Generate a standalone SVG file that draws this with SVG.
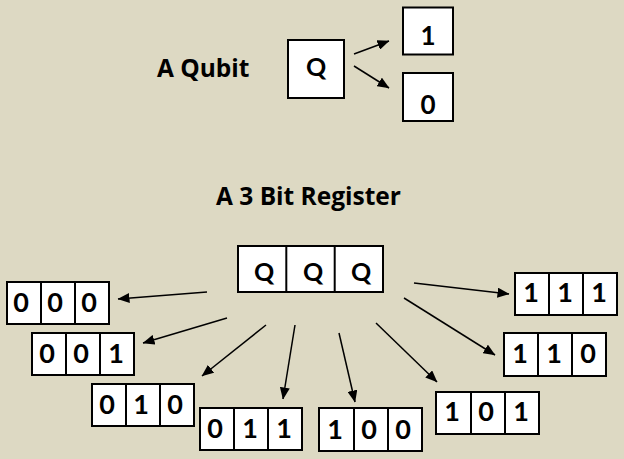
<svg xmlns="http://www.w3.org/2000/svg" width="624" height="459" viewBox="0 0 624 459">
<style>
.bg{fill:#DDD9C3}
.box{fill:#FFFFFF;stroke:#000000;stroke-width:2}
.div{stroke:#000000;stroke-width:2}
.title{font-family:"Open Sans","Liberation Sans",sans-serif;font-weight:bold;font-size:24.5px;fill:#000000}
.q{font-family:Lato,"Open Sans",sans-serif;font-weight:bold;font-size:25px;fill:#000000;text-anchor:middle}
.d{font-family:Lato,"Open Sans",sans-serif;font-weight:bold;font-size:27px;fill:#000000;text-anchor:middle}
.ds{font-family:Lato,"Open Sans",sans-serif;font-weight:bold;font-size:26px;fill:#000000;text-anchor:middle}
.arr{stroke:#000000;stroke-width:1.5;fill:none;marker-end:url(#ah)}
</style>
<defs>
<marker id="ah" markerUnits="userSpaceOnUse" viewBox="0 0 12 10" refX="11.5" refY="5" markerWidth="12" markerHeight="10" orient="auto">
<path d="M0,0 L12,5 L0,10 Z" fill="#000000"/>
</marker>
</defs>
<rect class="bg" x="0" y="0" width="624" height="459"/>

<text class="title" x="157" y="77">A Qubit</text>
<text class="title" x="216" y="205">A 3 Bit Register</text>

<g id="qubit">
<rect class="box" x="288" y="40" width="56" height="58"/>
<text class="q" x="316" y="76">Q</text>
</g>
<g id="one">
<rect class="box" x="403" y="7.5" width="50" height="47"/>
<text class="ds" x="428" y="45">1</text>
</g>
<g id="zero">
<rect class="box" x="403" y="73" width="50" height="48"/>
<text class="ds" x="428" y="113.5">0</text>
</g>

<g id="register">
<rect class="box" x="238" y="246" width="145" height="46"/>
<line class="div" x1="286.3" y1="246" x2="286.3" y2="292"/>
<line class="div" x1="334.7" y1="246" x2="334.7" y2="292"/>
<text class="q" x="264" y="280.5">Q</text>
<text class="q" x="313" y="280.5">Q</text>
<text class="q" x="361" y="280.5">Q</text>
</g>

<g id="r000">
<rect class="box" x="7" y="282" width="102" height="42"/>
<line class="div" x1="41" y1="282" x2="41" y2="324"/>
<line class="div" x1="75" y1="282" x2="75" y2="324"/>
<text class="d" x="21" y="312">0</text>
<text class="d" x="55" y="312">0</text>
<text class="d" x="89" y="312">0</text>
</g>
<g id="r001">
<rect class="box" x="32" y="333" width="102" height="42"/>
<line class="div" x1="66" y1="333" x2="66" y2="375"/>
<line class="div" x1="100" y1="333" x2="100" y2="375"/>
<text class="d" x="47" y="363">0</text>
<text class="d" x="81" y="363">0</text>
<text class="d" x="116" y="363">1</text>
</g>
<g id="r010">
<rect class="box" x="92" y="384" width="102" height="42"/>
<line class="div" x1="126" y1="384" x2="126" y2="426"/>
<line class="div" x1="160" y1="384" x2="160" y2="426"/>
<text class="d" x="107" y="414">0</text>
<text class="d" x="141" y="414">1</text>
<text class="d" x="175" y="414">0</text>
</g>
<g id="r011">
<rect class="box" x="200" y="408" width="102" height="42"/>
<line class="div" x1="234" y1="408" x2="234" y2="450"/>
<line class="div" x1="268" y1="408" x2="268" y2="450"/>
<text class="d" x="215" y="438">0</text>
<text class="d" x="250" y="438">1</text>
<text class="d" x="284" y="438">1</text>
</g>
<g id="r100">
<rect class="box" x="319" y="408" width="103" height="43"/>
<line class="div" x1="354" y1="408" x2="354" y2="451"/>
<line class="div" x1="388" y1="408" x2="388" y2="451"/>
<text class="d" x="335" y="438.5">1</text>
<text class="d" x="369" y="438.5">0</text>
<text class="d" x="403" y="438.5">0</text>
</g>
<g id="r101">
<rect class="box" x="436" y="392" width="103" height="42"/>
<line class="div" x1="471" y1="392" x2="471" y2="434"/>
<line class="div" x1="505" y1="392" x2="505" y2="434"/>
<text class="d" x="452" y="420.5">1</text>
<text class="d" x="486" y="420.5">0</text>
<text class="d" x="521" y="420.5">1</text>
</g>
<g id="r110">
<rect class="box" x="504" y="333" width="102" height="43"/>
<line class="div" x1="538" y1="333" x2="538" y2="376"/>
<line class="div" x1="572" y1="333" x2="572" y2="376"/>
<text class="d" x="520" y="363">1</text>
<text class="d" x="554" y="363">1</text>
<text class="d" x="588" y="363">0</text>
</g>
<g id="r111">
<rect class="box" x="515" y="273" width="102" height="42"/>
<line class="div" x1="549" y1="273" x2="549" y2="315"/>
<line class="div" x1="583" y1="273" x2="583" y2="315"/>
<text class="d" x="531" y="302">1</text>
<text class="d" x="565" y="302">1</text>
<text class="d" x="599" y="302">1</text>
</g>

<g id="connectors">
<line class="arr" x1="354" y1="54" x2="389" y2="41"/>
<line class="arr" x1="354" y1="66" x2="389" y2="88"/>
<line class="arr" x1="207" y1="292" x2="118" y2="299"/>
<line class="arr" x1="227" y1="318" x2="143" y2="343"/>
<line class="arr" x1="266" y1="325" x2="202" y2="376"/>
<line class="arr" x1="295" y1="325" x2="283" y2="399"/>
<line class="arr" x1="339" y1="333" x2="355" y2="402"/>
<line class="arr" x1="376" y1="323" x2="437" y2="382"/>
<line class="arr" x1="404" y1="298" x2="495" y2="355"/>
<line class="arr" x1="414" y1="283" x2="509" y2="294"/>
</g>
</svg>
